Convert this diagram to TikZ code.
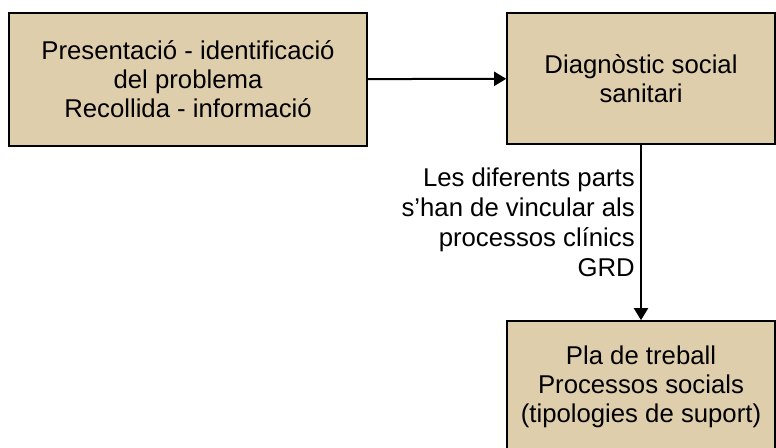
\documentclass[tikz,border=0pt]{standalone}
\usepackage{fontspec}
\setmainfont{Liberation Sans}
\usetikzlibrary{arrows.meta,positioning}
\definecolor{caixafons}{RGB}{223,206,172}
\tikzset{
  caixa/.style={draw=black, line width=1.2pt, fill=caixafons, align=center,
    inner sep=0pt, font=\fontsize{19.3}{21.8}\selectfont},
  fletxa/.style={line width=1.5pt, -{Triangle[length=9pt,width=10.5pt]}}
}

\begin{document}
\begin{tikzpicture}[x=0.75pt,y=-0.75pt]
    \useasboundingbox (0,0) rectangle (776,448);
    \node[caixa, minimum width=268.5pt, minimum height=99.75pt] (presentacio) at (188,79.5)
        {Presentació - identificació\\del problema\\Recollida - informació};
    \node[caixa, minimum width=201pt, minimum height=98.25pt] (diagnostic) at (641,78.5)
        {Diagnòstic social\\sanitari};
    \node[caixa, minimum width=201pt, minimum height=98.25pt] (pla) at (641,386.5)
        {Pla de treball\\Processos socials\\(tipologies de suport)};
    \draw[fletxa] (presentacio) -- (diagnostic);
    \draw[fletxa] (diagnostic) -- (pla);
    \node[anchor=east, align=right, inner sep=0pt, font=\fontsize{19.3}{22.5}\selectfont] (vincle) at (635,222)
        {Les diferents parts\\s’han de vincular als\\processos clínics\\GRD};
\end{tikzpicture}
\end{document}
